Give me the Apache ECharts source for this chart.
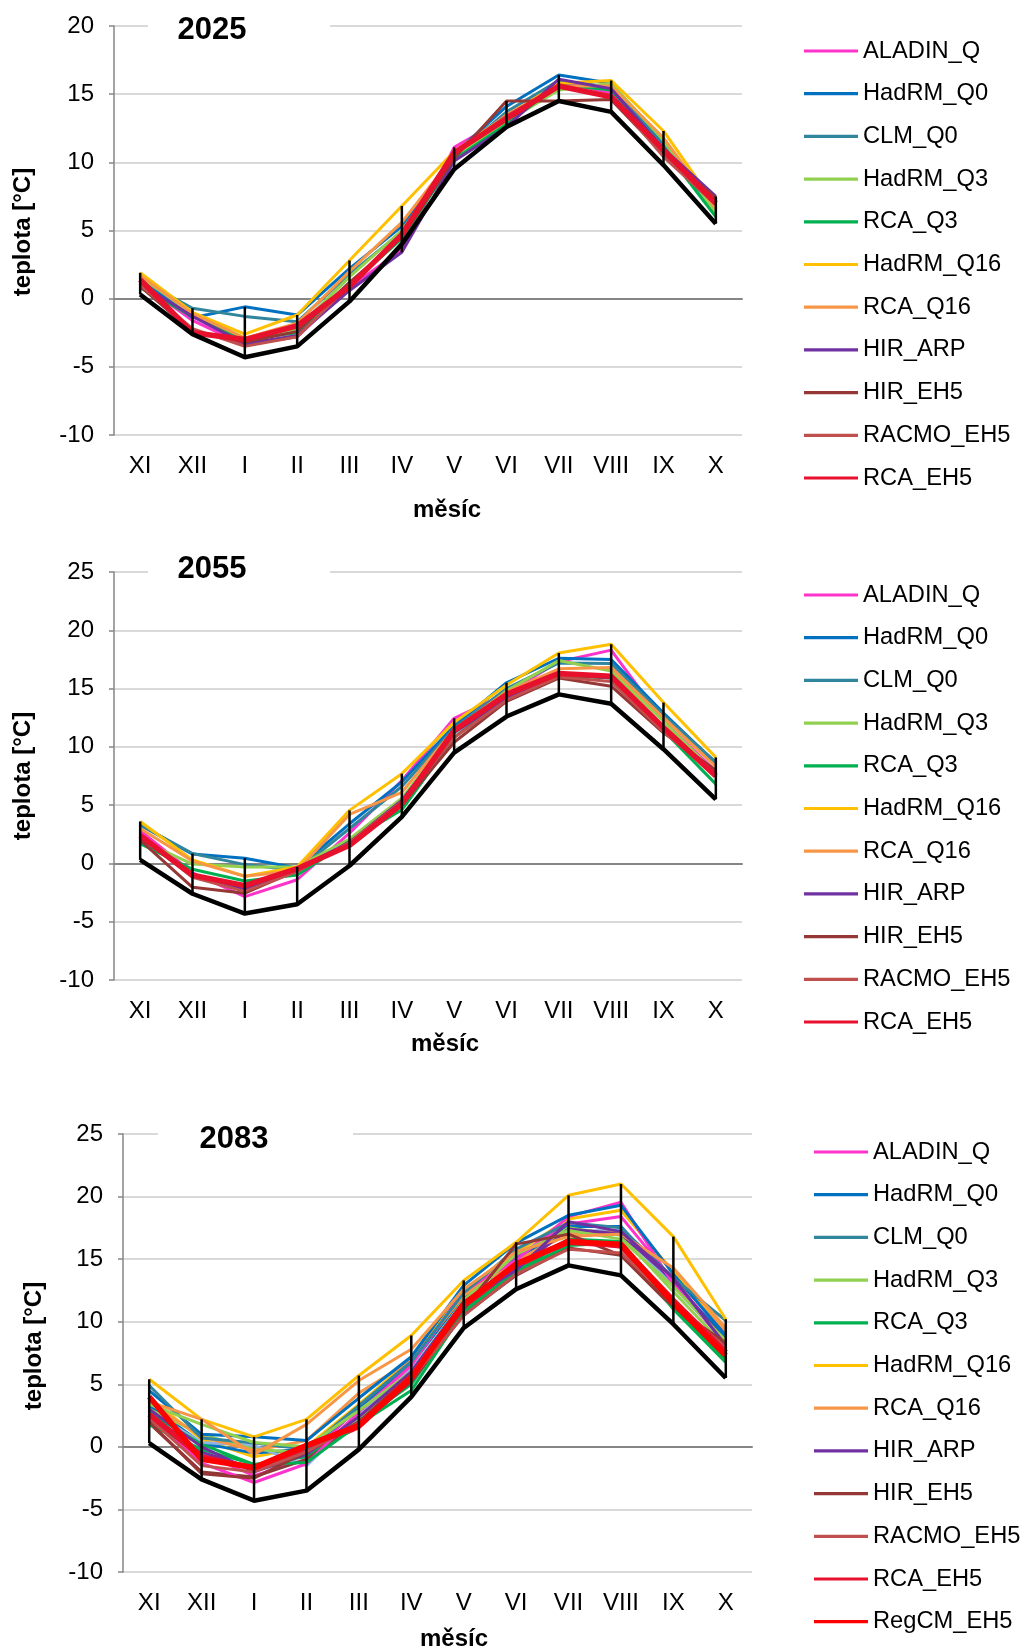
<!DOCTYPE html>
<html>
<head>
<meta charset="utf-8">
<script src="https://cdn.jsdelivr.net/npm/echarts@6/dist/echarts.min.js"></script>
<style>
html,body{margin:0;padding:0;background:#fff;}
#chart{width:1023px;height:1652px;}
</style>
</head>
<body>
<div id="chart"></div>
<script>
// ---------- DATA ----------
const months = ['XI','XII','I','II','III','IV','V','VI','VII','VIII','IX','X'];
const obs = [0.3, -2.6, -4.3, -3.5, -0.2, 4.0, 9.5, 12.6, 14.5, 13.7, 9.8, 5.5];

const names2025 = ['ALADIN_Q','HadRM_Q0','CLM_Q0','HadRM_Q3','RCA_Q3','HadRM_Q16','RCA_Q16','HIR_ARP','HIR_EH5','RACMO_EH5','RCA_EH5'];
const vals2025 = [
  [1.2, -1.6, -3.4, -2.8, 0.8, 3.6, 11.1, 13.3, 15.9, 15.1, 10.8, 6.8],
  [1.5, -1.4, -0.6, -1.2, 2.2, 5.3, 10.6, 14.1, 16.4, 15.8, 11.3, 6.5],
  [1.4, -0.7, -1.3, -1.7, 1.8, 4.9, 10.4, 13.7, 16.0, 15.5, 11.2, 6.1],
  [1.6, -1.1, -2.9, -2.2, 1.6, 5.0, 10.3, 13.0, 15.3, 15.8, 11.6, 6.3],
  [0.8, -1.3, -3.0, -2.5, 1.0, 4.4, 10.2, 12.8, 15.7, 15.3, 11.0, 6.0],
  [1.9, -1.0, -2.6, -1.2, 2.8, 6.8, 10.8, 13.4, 15.8, 16.0, 12.3, 6.8],
  [1.7, -1.1, -2.9, -1.8, 2.0, 5.6, 10.5, 13.5, 15.6, 15.6, 11.8, 6.6],
  [1.1, -1.3, -3.3, -2.7, 0.6, 3.4, 10.1, 12.6, 16.1, 15.4, 11.0, 7.5],
  [0.9, -2.4, -3.2, -2.4, 1.2, 4.5, 10.3, 14.5, 14.5, 14.6, 10.6, 7.4],
  [1.0, -2.2, -3.5, -2.8, 1.0, 4.6, 10.6, 13.4, 15.6, 14.9, 10.4, 6.9],
  [1.4, -2.5, -3.0, -2.0, 0.9, 4.7, 10.7, 13.2, 15.6, 14.8, 10.9, 7.0]
];

const names2055 = names2025;
const vals2055 = [
  [2.8, -0.8, -2.85, -1.4, 2.6, 7.1, 12.45, 14.6, 17.3, 18.3, 12.2, 7.9],
  [3.3, 0.8, 0.45, -0.4, 3.4, 7.0, 11.8, 15.5, 17.6, 17.5, 12.9, 8.6],
  [3.3, 0.85, -0.1, -0.6, 3.0, 6.6, 11.6, 15.0, 17.2, 17.15, 12.7, 8.7],
  [2.0, -0.05, -0.3, -0.3, 2.1, 5.6, 11.3, 14.8, 17.4, 16.5, 12.2, 7.7],
  [1.7, -0.5, -1.5, -1.0, 1.9, 4.6, 10.8, 14.3, 16.1, 15.9, 11.4, 6.8],
  [3.6, 0.3, -1.1, -0.3, 4.55, 7.7, 12.1, 15.3, 18.05, 18.8, 13.8, 9.1],
  [3.0, 0.2, -1.1, -0.6, 4.2, 6.1, 11.5, 14.7, 16.7, 16.8, 12.5, 8.3],
  [2.2, -1.0, -2.2, -0.5, 1.8, 5.4, 11.2, 14.2, 16.3, 15.9, 11.4, 7.8],
  [2.0, -2.05, -2.55, -0.6, 1.7, 5.0, 10.4, 13.9, 15.9, 15.2, 11.2, 8.0],
  [2.3, -1.2, -2.4, -0.7, 1.8, 5.3, 10.8, 14.0, 16.0, 15.6, 11.3, 7.6],
  [2.4, -1.0, -1.9, -0.45, 1.55, 5.1, 11.4, 14.5, 16.3, 16.05, 11.65, 7.5]
];

const names2083 = ['ALADIN_Q','HadRM_Q0','CLM_Q0','HadRM_Q3','RCA_Q3','HadRM_Q16','RCA_Q16','HIR_ARP','HIR_EH5','RACMO_EH5','RCA_EH5','RegCM_EH5'];
const vals2083 = [
  [2.4, -1.3, -2.85, -1.35, 2.8, 6.5, 12.5, 14.9, 18.4, 19.55, 13.0, 8.3],
  [4.5, 1.0, 0.8, 0.5, 3.9, 7.2, 12.9, 16.3, 18.5, 19.3, 13.8, 8.9],
  [4.9, 0.7, 0.3, -0.2, 3.3, 6.8, 12.3, 15.8, 17.9, 17.5, 13.5, 10.1],
  [3.4, 1.8, 0.35, 0.0, 2.9, 6.0, 11.7, 15.4, 17.3, 16.6, 12.8, 8.5],
  [1.75, -0.2, -1.4, -1.25, 1.8, 4.5, 10.8, 14.0, 16.1, 16.3, 11.0, 6.75],
  [5.4, 2.2, 0.8, 2.2, 5.7, 8.9, 13.3, 16.35, 20.1, 21.0, 16.8, 10.2],
  [3.6, 2.2, -0.6, 1.8, 5.3, 7.8, 12.6, 15.6, 16.8, 17.0, 14.3, 9.5],
  [3.0, 0.0, -2.0, -0.6, 2.4, 6.0, 11.6, 14.1, 18.0, 17.2, 13.5, 8.1],
  [2.0, -2.15, -2.5, -0.4, 2.0, 5.8, 11.0, 16.2, 17.0, 15.3, 11.2, 8.3],
  [2.3, -1.5, -2.0, -0.4, 1.9, 5.4, 10.5, 13.8, 15.8, 15.5, 11.6, 7.9],
  [2.6, -0.8, -1.7, 0.1, 1.7, 5.6, 11.4, 14.6, 16.35, 16.1, 11.7, 7.55],
  [4.0, -1.0, -1.65, 0.1, 1.7, 5.5, 11.4, 14.6, 16.4, 16.2, 11.5, 7.3]
];
// further model runs in 2083 not listed in the legend
const extra2083 = [
  [3.9, 0.6, -0.8, 0.0, 3.4, 7.0, 12.5, 15.5, 18.2, 18.9, 14.0, 9.3],
  [2.2, -0.5, -2.3, -1.0, 3.2, 6.8, 12.2, 15.2, 17.8, 18.4, 13.3, 8.6],
  [3.3, 0.3, -0.5, -0.2, 3.0, 6.6, 12.0, 15.0, 17.6, 17.6, 13.0, 8.8],
  [2.9, 0.35, 0.1, -1.5, 2.5, 6.2, 11.5, 14.8, 17.2, 17.3, 12.8, 8.4],
  [3.0, 1.0, -0.2, -0.5, 2.3, 5.8, 11.4, 14.6, 17.5, 16.9, 12.4, 8.0],
  [3.5, 0.8, -0.3, 0.5, 4.3, 6.9, 12.1, 14.9, 17.0, 17.2, 13.6, 9.2],
  [2.6, -0.4, -1.8, -0.6, 2.0, 5.6, 10.9, 14.2, 17.4, 17.0, 13.3, 8.4],
  [2.7, 0.2, -1.4, -0.8, 2.0, 5.0, 11.0, 14.0, 16.6, 16.4, 11.3, 7.0],
  [2.3, -0.9, -1.6, -0.3, 1.6, 5.4, 11.2, 14.4, 16.5, 16.0, 11.5, 7.6],
  [1.9, -2.0, -2.4, -1.0, 1.8, 5.2, 10.6, 13.7, 15.9, 15.3, 11.1, 7.8]
];
const yearTitles = ['2025','2055','2083'];
const yTicks = [[-10,20],[-10,25],[-10,25]];

// ---------- STYLE ----------
const colorMap = {
  'ALADIN_Q':'#FF33CC','HadRM_Q0':'#0070C0','CLM_Q0':'#31859C','HadRM_Q3':'#92D050',
  'RCA_Q3':'#00B050','HadRM_Q16':'#FFC000','RCA_Q16':'#F79646','HIR_ARP':'#7030A0',
  'HIR_EH5':'#953735','RACMO_EH5':'#C0504D','RCA_EH5':'#E8112D','RegCM_EH5':'#FF0000'
};
const extraColors = ['#FFC000','#FF33CC','#0070C0','#8EB4E3','#92D050','#F79646','#7030A0','#00B050','#E8112D','#8B3A3A'];
const FONT = 'Liberation Sans, Arial, sans-serif';

const grids = [
  {left:114, top:26, width:628, height:409},
  {left:114, top:572, width:628, height:408},
  {left:123, top:1134, width:629, height:438}
];

const xAxes = [], yAxes = [], series = [];
grids.forEach((g, k) => {
  xAxes.push({
    gridIndex:k, type:'category', data:months, boundaryGap:true, position:'bottom',
    axisLine:{show:true, onZero:true, lineStyle:{color:'#868686', width:2}},
    axisTick:{show:false}, axisLabel:{show:false}, splitLine:{show:false}
  });
  xAxes.push({
    gridIndex:k, type:'category', data:months, boundaryGap:true, position:'bottom',
    axisLine:{show:false, onZero:false}, axisTick:{show:false},
    axisLabel:{show:true, color:'#000', fontSize:24, fontFamily:FONT, margin:19},
    splitLine:{show:false}
  });
  yAxes.push({
    gridIndex:k, type:'value', min:yTicks[k][0], max:yTicks[k][1], interval:5,
    axisLine:{show:true, lineStyle:{color:'#868686', width:1.5}},
    axisTick:{show:true, length:5, lineStyle:{color:'#868686', width:1.5}},
    axisLabel:{color:'#000', fontSize:24, fontFamily:FONT, margin:20},
    splitLine:{show:true, lineStyle:{color:'#D9D9D9', width:2}}
  });
});

function addLine(k, name, data, color, width, z) {
  series.push({
    type:'line', name:name, xAxisIndex:2*k, yAxisIndex:k, data:data,
    symbol:'none', smooth:false, animation:false, z:z,
    lineStyle:{color:color, width:width}, itemStyle:{color:color}
  });
}

const allSets = [
  {names:names2025, vals:vals2025, extra:[]},
  {names:names2055, vals:vals2055, extra:[]},
  {names:names2083, vals:vals2083, extra:extra2083}
];

allSets.forEach((set, k) => {
  set.extra.forEach((d, j) => addLine(k, 'extra' + j, d, extraColors[j], (extraColors[j]==='#E8112D')?4.5:3, 2));
  set.names.forEach((n, j) => {
    const isRed = (n === 'RCA_EH5' || n === 'RegCM_EH5');
    addLine(k, n, set.vals[j], colorMap[n], isRed ? 5.5 : 3, isRed ? 4 : 3);
  });
  addLine(k, 'obs', obs, '#000000', 4.5, 6);
  // high-low lines
  const rows = set.vals.concat(set.extra).concat([obs]);
  const hl = months.map((m, i) => {
    const col = rows.map(r => r[i]);
    return [i, Math.min.apply(null, col), Math.max.apply(null, col)];
  });
  series.push({
    type:'custom', name:'hl' + k, xAxisIndex:2*k, yAxisIndex:k, data:hl, z:7, animation:false,
    encode:{x:0, y:[1,2]},
    renderItem:function(params, api){
      const i = api.value(0);
      const p1 = api.coord([i, api.value(1)]);
      const p2 = api.coord([i, api.value(2)]);
      return {type:'line', shape:{x1:p1[0], y1:p1[1], x2:p2[0], y2:p2[1]},
              style:{stroke:'#000', lineWidth:2.5}};
    }
  });
});

function legendFor(names, left, top) {
  return {
    orient:'vertical', left:left, top:top, data:names,
    itemWidth:54, itemHeight:24, itemGap:18.7, itemTextGap:5,
    icon:'path://M0,10.4 L54,10.4 L54,13.6 L0,13.6 Z',
    selectedMode:false,
    textStyle:{fontSize:23.7, fontFamily:FONT, color:'#000', lineHeight:24, height:24},
  };
}

// graphic: titles with white box, axis names
const graphic = [];
const titleBoxes = [
  {x1:148, x2:330, cx:212, cy:30},
  {x1:148, x2:330, cx:212, cy:569},
  {x1:158, x2:353, cx:234, cy:1139}
];
titleBoxes.forEach((t, k) => {
  graphic.push({type:'rect', shape:{x:t.x1, y:t.cy-18, width:t.x2-t.x1, height:36}, style:{fill:'#fff'}, z:50});
  graphic.push({type:'text', x:t.cx, y:t.cy, z:51,
    style:{text:yearTitles[k], font:'bold 31px ' + FONT, fill:'#000', align:'center', verticalAlign:'middle'}});
});
const yNames = [[23,232],[23,776],[34,1346]];
yNames.forEach(p => graphic.push({type:'text', x:p[0], y:p[1], rotation:Math.PI/2, z:51,
  style:{text:'teplota [°C]', font:'bold 24px ' + FONT, fill:'#000', align:'center', verticalAlign:'middle'}}));
const xNames = [[447,510],[445,1044],[454,1639]];
xNames.forEach(p => graphic.push({type:'text', x:p[0], y:p[1], z:51,
  style:{text:'měsíc', font:'bold 24px ' + FONT, fill:'#000', align:'center', verticalAlign:'middle'}}));

const chart = echarts.init(document.getElementById('chart'), null, {renderer:'canvas'});
chart.setOption({
  backgroundColor:'#fff',
  animation:false,
  grid:grids,
  xAxis:xAxes,
  yAxis:yAxes,
  legend:[legendFor(names2025, 799, 34), legendFor(names2055, 799, 578), legendFor(names2083, 809, 1135)],
  graphic:graphic,
  series:series
});
</script>
</body>
</html>
